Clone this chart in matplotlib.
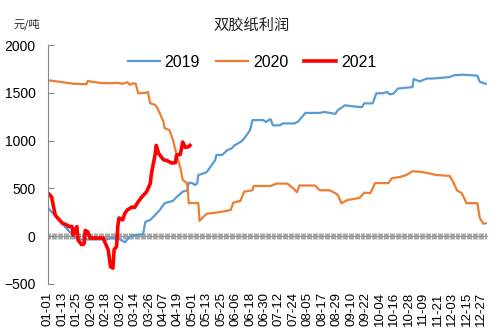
import matplotlib
matplotlib.use("Agg")
import matplotlib.pyplot as plt
import numpy as np

plt.rcParams["font.family"] = ["Liberation Sans", "DejaVu Sans"]

# day of year (0 = 01-01) and profit, yuan/ton
days_2019 = [0, 4, 10, 14, 18, 22, 25, 32, 49, 53, 60, 64, 66, 68, 72, 79, 81, 85, 89, 93,
             97, 104, 107, 112, 116, 117, 120, 122, 124, 125, 129, 132, 135, 139, 140, 145,
             149, 153, 155, 160, 162, 165, 168, 170, 179, 181, 185, 187, 193, 195, 205, 208,
             211, 214, 226, 230, 239, 241, 247, 253, 261, 263, 270, 273, 278, 282, 284, 287,
             291, 303, 304, 309, 315, 320, 334, 338, 345, 357, 359, 364]
vals_2019 = [295, 240, 170, 100, 45, -5, -35, -35, -35, -20, -35, -65, -35, -5, 10, 20, 150,
             170, 220, 275, 345, 370, 410, 465, 480, 560, 555, 535, 550, 640, 655, 670, 725,
             795, 850, 850, 900, 920, 950, 985, 1005, 1055, 1110, 1215, 1215, 1195, 1225, 1160,
             1160, 1180, 1180, 1200, 1245, 1290, 1290, 1300, 1280, 1320, 1370, 1360, 1350, 1390,
             1390, 1495, 1495, 1510, 1485, 1490, 1545, 1560, 1645, 1620, 1650, 1650, 1665, 1685,
             1690, 1680, 1615, 1595]

days_2020 = [0, 10, 21, 32, 33, 37, 43, 52, 58, 62, 66, 68, 71, 73, 75, 81, 83, 85, 89, 91,
             93, 96, 97, 101, 104, 106, 107, 110, 112, 115, 116, 117, 125, 126, 129, 132, 139,
             149, 152, 154, 160, 161, 163, 170, 171, 185, 190, 199, 204, 207, 209, 222, 226,
             234, 239, 241, 244, 249, 259, 263, 268, 272, 283, 286, 293, 298, 303, 312, 323,
             334, 337, 340, 344, 348, 357, 359, 362, 364]
vals_2020 = [1632, 1615, 1595, 1590, 1625, 1615, 1605, 1600, 1605, 1595, 1612, 1585, 1600,
             1595, 1495, 1500, 1510, 1390, 1375, 1340, 1285, 1200, 1130, 1110, 1000, 900, 850,
             720, 590, 560, 520, 346, 346, 160, 200, 235, 245, 265, 275, 350, 370, 400, 465,
             480, 525, 525, 550, 550, 500, 460, 530, 530, 480, 480, 450, 430, 345, 378, 400,
             455, 450, 555, 555, 607, 620, 640, 680, 670, 640, 630, 565, 480, 450, 345, 345,
             190, 130, 135]

days_2021 = [0, 3, 6, 8, 12, 16, 17, 20, 21, 24, 25, 28, 30, 31, 33, 35, 46, 47, 50, 52, 54,
             55, 57, 58, 59, 62, 64, 66, 70, 72, 75, 78, 82, 85, 86, 89, 90, 92, 96, 99, 103,
             106, 107, 110, 112, 114, 117, 118]
vals_2021 = [450, 410, 220, 190, 135, 115, 100, 100, 10, 100, -40, -90, -80, 60, 45, -20, -20,
             -55, -140, -320, -335, -140, -110, 100, 190, 170, 240, 275, 305, 300, 360, 410,
             465, 550, 655, 850, 950, 865, 800, 790, 765, 770, 850, 855, 985, 930, 935, 950]

tick_days = list(range(0, 361, 12))
tick_labels = ["01-01", "01-13", "01-25", "02-06", "02-18", "03-02", "03-14", "03-26",
               "04-07", "04-19", "05-01", "05-13", "05-25", "06-06", "06-18", "06-30",
               "07-12", "07-24", "08-05", "08-17", "08-29", "09-10", "09-22", "10-04",
               "10-16", "10-28", "11-09", "11-21", "12-03", "12-15", "12-27"]

fig = plt.figure(figsize=(5.01, 3.34), dpi=100)
ax = fig.add_axes([0.0958, 0.150, 0.8762, 0.715])

ax.plot(days_2019, vals_2019, color="#5B9BD5", lw=1.6, label="2019")
ax.plot(days_2020, vals_2020, color="#ED7D31", lw=1.6, label="2020")
ax.plot(days_2021, vals_2021, color="#FF0000", lw=2.6, label="2021")

ax.set_xlim(0, 365)
ax.set_ylim(-500, 2000)
ax.set_yticks([-500, 0, 500, 1000, 1500, 2000])
ax.set_yticklabels(["\u2212500", "0", "500", "1000", "1500", "2000"])
ax.tick_params(axis="y", direction="in", length=4, color="#888888", pad=9, labelsize=10)

ax.set_xticks(tick_days)
ax.set_xticklabels(tick_labels, rotation=90)
ax.tick_params(axis="x", length=0, pad=6, labelsize=9.5)

for s in ["top", "right", "bottom"]:
    ax.spines[s].set_visible(False)
ax.spines["left"].set_color("#888888")

# zero line with a tick for every day
zero = ax.secondary_xaxis(0.2)
zero.set_xticks(np.arange(0, 365))
zero.set_xticklabels([])
zero.tick_params(direction="inout", length=5, width=0.6, color="#999999")
zero.spines["bottom"].set_color("#999999")

fig.legend(loc="center", bbox_to_anchor=(0.503, 0.814), ncol=3, frameon=False,
           fontsize=11.5, handlelength=2.0, handletextpad=0.3, columnspacing=1.0)

fig.text(0.502, 0.925, "双胶纸利润", ha="center", va="center", fontsize=11,
         family=["Noto Sans CJK SC", "DejaVu Sans"], color="#222222")
fig.text(0.054, 0.927, "元/吨", ha="center", va="center", fontsize=8,
         family=["Noto Sans CJK SC", "DejaVu Sans"], color="#222222")

fig.savefig("out.png", dpi=100)
